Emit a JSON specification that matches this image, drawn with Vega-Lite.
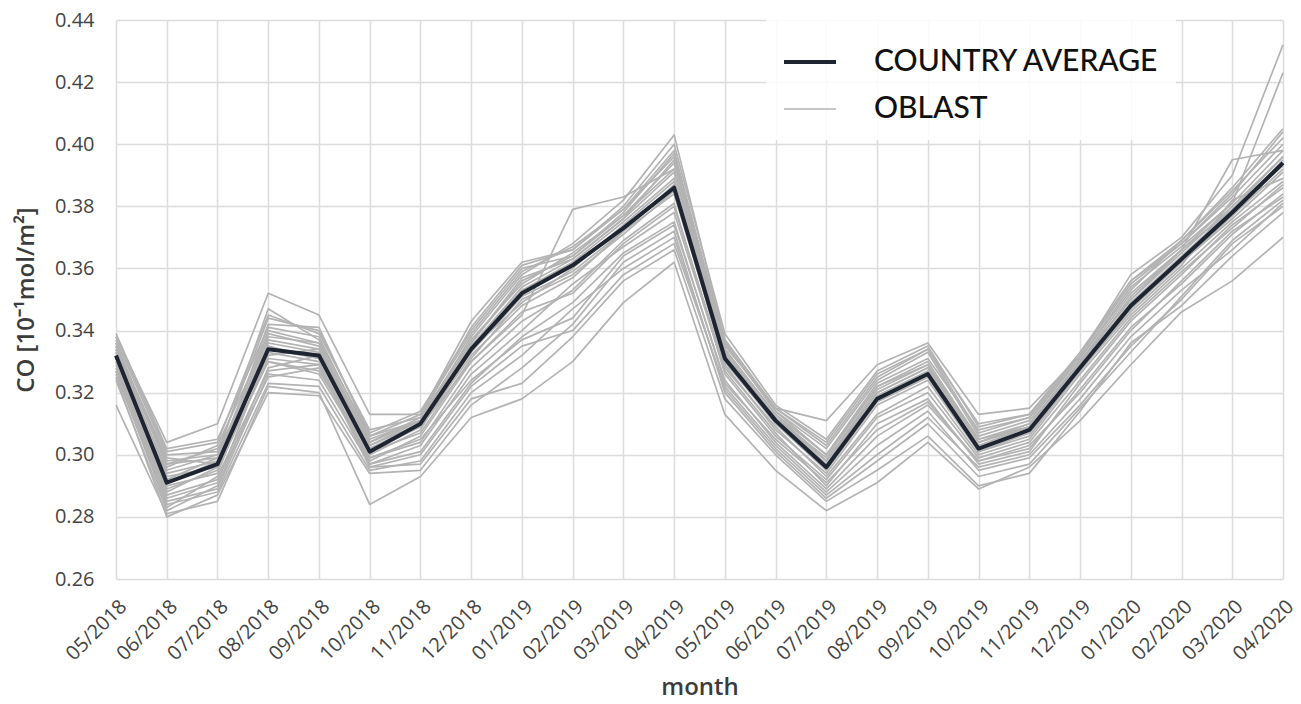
{
  "$schema": "https://vega.github.io/schema/vega-lite/v6.json",
  "autosize": "none",
  "width": 1167,
  "height": 559,
  "padding": {"left": 116, "top": 20, "right": 18, "bottom": 125},
  "background": "white",
  "config": {
    "view": {"stroke": null},
    "axis": {
      "domain": false,
      "ticks": false,
      "gridColor": "#dcdcdc",
      "gridWidth": 1.5,
      "labelFont": "Open Sans",
      "labelColor": "#444444",
      "labelFontSize": 20,
      "titleFont": "Open Sans",
      "titleColor": "#3c3c3c",
      "titleFontWeight": 600
    }
  },
  "data": {
    "values": [
      {"month":"05/2018","AVG":0.332,"O1":0.338,"O2":0.335,"O3":0.316,"O4":0.327,"O5":0.334,"O6":0.339,"O7":0.330,"O8":0.328,"O9":0.336,"O10":0.333,"O11":0.331,"O12":0.329,"O13":0.337,"O14":0.326,"O15":0.332,"O16":0.334,"O17":0.324,"O18":0.335,"O19":0.330,"O20":0.333,"O21":0.338,"O22":0.327,"O23":0.331,"O24":0.336,"O25":0.325},
      {"month":"06/2018","AVG":0.291,"O1":0.304,"O2":0.298,"O3":0.281,"O4":0.283,"O5":0.294,"O6":0.302,"O7":0.288,"O8":0.286,"O9":0.296,"O10":0.290,"O11":0.292,"O12":0.287,"O13":0.300,"O14":0.284,"O15":0.293,"O16":0.297,"O17":0.282,"O18":0.299,"O19":0.289,"O20":0.295,"O21":0.301,"O22":0.285,"O23":0.291,"O24":0.297,"O25":0.280},
      {"month":"07/2018","AVG":0.297,"O1":0.310,"O2":0.300,"O3":0.285,"O4":0.293,"O5":0.298,"O6":0.305,"O7":0.296,"O8":0.291,"O9":0.303,"O10":0.294,"O11":0.299,"O12":0.292,"O13":0.301,"O14":0.288,"O15":0.296,"O16":0.302,"O17":0.290,"O18":0.297,"O19":0.295,"O20":0.300,"O21":0.304,"O22":0.289,"O23":0.298,"O24":0.299,"O25":0.287},
      {"month":"08/2018","AVG":0.334,"O1":0.352,"O2":0.347,"O3":0.322,"O4":0.327,"O5":0.336,"O6":0.341,"O7":0.330,"O8":0.333,"O9":0.338,"O10":0.335,"O11":0.332,"O12":0.325,"O13":0.344,"O14":0.323,"O15":0.339,"O16":0.330,"O17":0.328,"O18":0.342,"O19":0.331,"O20":0.337,"O21":0.345,"O22":0.326,"O23":0.334,"O24":0.340,"O25":0.320},
      {"month":"09/2018","AVG":0.332,"O1":0.345,"O2":0.337,"O3":0.320,"O4":0.329,"O5":0.333,"O6":0.338,"O7":0.326,"O8":0.330,"O9":0.336,"O10":0.331,"O11":0.334,"O12":0.328,"O13":0.340,"O14":0.322,"O15":0.335,"O16":0.327,"O17":0.332,"O18":0.341,"O19":0.329,"O20":0.334,"O21":0.339,"O22":0.324,"O23":0.331,"O24":0.336,"O25":0.319},
      {"month":"10/2018","AVG":0.301,"O1":0.313,"O2":0.306,"O3":0.284,"O4":0.296,"O5":0.302,"O6":0.305,"O7":0.299,"O8":0.297,"O9":0.304,"O10":0.300,"O11":0.302,"O12":0.298,"O13":0.307,"O14":0.295,"O15":0.303,"O16":0.301,"O17":0.296,"O18":0.306,"O19":0.299,"O20":0.303,"O21":0.308,"O22":0.297,"O23":0.301,"O24":0.304,"O25":0.294},
      {"month":"11/2018","AVG":0.310,"O1":0.313,"O2":0.311,"O3":0.293,"O4":0.297,"O5":0.309,"O6":0.311,"O7":0.305,"O8":0.303,"O9":0.312,"O10":0.308,"O11":0.310,"O12":0.306,"O13":0.314,"O14":0.298,"O15":0.310,"O16":0.307,"O17":0.300,"O18":0.313,"O19":0.304,"O20":0.311,"O21":0.312,"O22":0.301,"O23":0.309,"O24":0.311,"O25":0.295},
      {"month":"12/2018","AVG":0.334,"O1":0.343,"O2":0.338,"O3":0.312,"O4":0.318,"O5":0.330,"O6":0.336,"O7":0.324,"O8":0.326,"O9":0.337,"O10":0.335,"O11":0.333,"O12":0.330,"O13":0.340,"O14":0.320,"O15":0.334,"O16":0.331,"O17":0.322,"O18":0.339,"O19":0.328,"O20":0.335,"O21":0.341,"O22":0.323,"O23":0.332,"O24":0.336,"O25":0.316},
      {"month":"01/2019","AVG":0.352,"O1":0.362,"O2":0.358,"O3":0.318,"O4":0.323,"O5":0.345,"O6":0.357,"O7":0.337,"O8":0.340,"O9":0.355,"O10":0.353,"O11":0.351,"O12":0.346,"O13":0.360,"O14":0.332,"O15":0.349,"O16":0.350,"O17":0.335,"O18":0.359,"O19":0.343,"O20":0.354,"O21":0.361,"O22":0.338,"O23":0.348,"O24":0.356,"O25":0.328},
      {"month":"02/2019","AVG":0.361,"O1":0.366,"O2":0.368,"O3":0.330,"O4":0.338,"O5":0.379,"O6":0.363,"O7":0.344,"O8":0.355,"O9":0.365,"O10":0.362,"O11":0.359,"O12":0.352,"O13":0.364,"O14":0.347,"O15":0.360,"O16":0.358,"O17":0.340,"O18":0.367,"O19":0.353,"O20":0.363,"O21":0.366,"O22":0.349,"O23":0.357,"O24":0.364,"O25":0.342},
      {"month":"03/2019","AVG":0.373,"O1":0.380,"O2":0.382,"O3":0.349,"O4":0.356,"O5":0.383,"O6":0.376,"O7":0.364,"O8":0.367,"O9":0.377,"O10":0.375,"O11":0.372,"O12":0.368,"O13":0.378,"O14":0.360,"O15":0.374,"O16":0.371,"O17":0.358,"O18":0.379,"O19":0.369,"O20":0.376,"O21":0.379,"O22":0.365,"O23":0.372,"O24":0.377,"O25":0.362},
      {"month":"04/2019","AVG":0.386,"O1":0.400,"O2":0.403,"O3":0.362,"O4":0.366,"O5":0.392,"O6":0.395,"O7":0.374,"O8":0.378,"O9":0.392,"O10":0.389,"O11":0.384,"O12":0.380,"O13":0.397,"O14":0.370,"O15":0.388,"O16":0.385,"O17":0.368,"O18":0.398,"O19":0.381,"O20":0.391,"O21":0.396,"O22":0.375,"O23":0.387,"O24":0.394,"O25":0.372},
      {"month":"05/2019","AVG":0.331,"O1":0.339,"O2":0.337,"O3":0.313,"O4":0.318,"O5":0.332,"O6":0.336,"O7":0.324,"O8":0.327,"O9":0.334,"O10":0.333,"O11":0.330,"O12":0.328,"O13":0.335,"O14":0.321,"O15":0.332,"O16":0.329,"O17":0.322,"O18":0.336,"O19":0.326,"O20":0.333,"O21":0.337,"O22":0.323,"O23":0.330,"O24":0.334,"O25":0.320},
      {"month":"06/2019","AVG":0.311,"O1":0.316,"O2":0.315,"O3":0.295,"O4":0.300,"O5":0.312,"O6":0.314,"O7":0.304,"O8":0.307,"O9":0.313,"O10":0.312,"O11":0.310,"O12":0.309,"O13":0.315,"O14":0.302,"O15":0.311,"O16":0.308,"O17":0.303,"O18":0.314,"O19":0.306,"O20":0.312,"O21":0.315,"O22":0.305,"O23":0.310,"O24":0.313,"O25":0.301},
      {"month":"07/2019","AVG":0.296,"O1":0.305,"O2":0.311,"O3":0.282,"O4":0.285,"O5":0.299,"O6":0.302,"O7":0.289,"O8":0.290,"O9":0.298,"O10":0.297,"O11":0.295,"O12":0.293,"O13":0.303,"O14":0.287,"O15":0.296,"O16":0.294,"O17":0.288,"O18":0.300,"O19":0.292,"O20":0.298,"O21":0.304,"O22":0.291,"O23":0.296,"O24":0.300,"O25":0.286},
      {"month":"08/2019","AVG":0.318,"O1":0.327,"O2":0.329,"O3":0.291,"O4":0.295,"O5":0.322,"O6":0.324,"O7":0.306,"O8":0.310,"O9":0.321,"O10":0.320,"O11":0.317,"O12":0.313,"O13":0.325,"O14":0.300,"O15":0.319,"O16":0.316,"O17":0.303,"O18":0.323,"O19":0.312,"O20":0.320,"O21":0.326,"O22":0.308,"O23":0.318,"O24":0.322,"O25":0.298},
      {"month":"09/2019","AVG":0.326,"O1":0.335,"O2":0.336,"O3":0.304,"O4":0.306,"O5":0.329,"O6":0.333,"O7":0.316,"O8":0.318,"O9":0.329,"O10":0.328,"O11":0.325,"O12":0.322,"O13":0.334,"O14":0.312,"O15":0.327,"O16":0.324,"O17":0.314,"O18":0.331,"O19":0.320,"O20":0.328,"O21":0.334,"O22":0.317,"O23":0.326,"O24":0.330,"O25":0.310},
      {"month":"10/2019","AVG":0.302,"O1":0.309,"O2":0.313,"O3":0.289,"O4":0.290,"O5":0.305,"O6":0.306,"O7":0.298,"O8":0.297,"O9":0.304,"O10":0.303,"O11":0.301,"O12":0.300,"O13":0.307,"O14":0.296,"O15":0.302,"O16":0.301,"O17":0.295,"O18":0.308,"O19":0.299,"O20":0.304,"O21":0.310,"O22":0.298,"O23":0.302,"O24":0.305,"O25":0.293},
      {"month":"11/2019","AVG":0.308,"O1":0.313,"O2":0.315,"O3":0.296,"O4":0.294,"O5":0.309,"O6":0.311,"O7":0.303,"O8":0.301,"O9":0.310,"O10":0.309,"O11":0.307,"O12":0.305,"O13":0.312,"O14":0.300,"O15":0.308,"O16":0.306,"O17":0.299,"O18":0.312,"O19":0.304,"O20":0.309,"O21":0.313,"O22":0.302,"O23":0.307,"O24":0.310,"O25":0.297},
      {"month":"12/2019","AVG":0.328,"O1":0.333,"O2":0.332,"O3":0.311,"O4":0.314,"O5":0.329,"O6":0.331,"O7":0.320,"O8":0.323,"O9":0.330,"O10":0.329,"O11":0.327,"O12":0.326,"O13":0.332,"O14":0.318,"O15":0.328,"O16":0.327,"O17":0.316,"O18":0.331,"O19":0.324,"O20":0.330,"O21":0.332,"O22":0.321,"O23":0.328,"O24":0.330,"O25":0.315},
      {"month":"01/2020","AVG":0.348,"O1":0.356,"O2":0.358,"O3":0.329,"O4":0.336,"O5":0.351,"O6":0.354,"O7":0.340,"O8":0.343,"O9":0.350,"O10":0.349,"O11":0.347,"O12":0.345,"O13":0.355,"O14":0.338,"O15":0.348,"O16":0.346,"O17":0.335,"O18":0.353,"O19":0.344,"O20":0.350,"O21":0.356,"O22":0.341,"O23":0.347,"O24":0.352,"O25":0.333},
      {"month":"02/2020","AVG":0.363,"O1":0.368,"O2":0.370,"O3":0.346,"O4":0.348,"O5":0.366,"O6":0.367,"O7":0.356,"O8":0.358,"O9":0.365,"O10":0.364,"O11":0.362,"O12":0.360,"O13":0.368,"O14":0.353,"O15":0.363,"O16":0.361,"O17":0.350,"O18":0.369,"O19":0.359,"O20":0.366,"O21":0.369,"O22":0.355,"O23":0.362,"O24":0.366,"O25":0.351},
      {"month":"03/2020","AVG":0.378,"O1":0.384,"O2":0.390,"O3":0.356,"O4":0.364,"O5":0.395,"O6":0.381,"O7":0.372,"O8":0.374,"O9":0.380,"O10":0.379,"O11":0.376,"O12":0.375,"O13":0.383,"O14":0.366,"O15":0.377,"O16":0.382,"O17":0.368,"O18":0.385,"O19":0.373,"O20":0.379,"O21":0.386,"O22":0.371,"O23":0.377,"O24":0.381,"O25":0.369},
      {"month":"04/2020","AVG":0.394,"O1":0.404,"O2":0.432,"O3":0.370,"O4":0.378,"O5":0.398,"O6":0.423,"O7":0.383,"O8":0.386,"O9":0.396,"O10":0.393,"O11":0.391,"O12":0.388,"O13":0.400,"O14":0.381,"O15":0.395,"O16":0.389,"O17":0.380,"O18":0.402,"O19":0.387,"O20":0.396,"O21":0.405,"O22":0.384,"O23":0.392,"O24":0.398,"O25":0.382}
    ]
  },
  "encoding": {
    "x": {
      "field": "month",
      "type": "ordinal",
      "scale": {
        "type": "point",
        "padding": 0,
        "domain": ["05/2018","06/2018","07/2018","08/2018","09/2018","10/2018","11/2018","12/2018","01/2019","02/2019","03/2019","04/2019","05/2019","06/2019","07/2019","08/2019","09/2019","10/2019","11/2019","12/2019","01/2020","02/2020","03/2020","04/2020"]
      },
      "axis": {
        "title": "month",
        "grid": true,
        "labelAngle": -45,
        "labelPadding": 17,
        "titleFontSize": 24,
        "titlePadding": 12
      }
    }
  },
  "layer": [
    {
      "transform": [
        {"fold": ["O1","O2","O3","O4","O5","O6","O7","O8","O9","O10","O11","O12","O13","O14","O15","O16","O17","O18","O19","O20","O21","O22","O23","O24","O25"], "as": ["oblast","co"]}
      ],
      "mark": {"type": "line", "strokeJoin": "round"},
      "encoding": {
        "y": {
          "field": "co",
          "type": "quantitative",
          "scale": {"domain": [0.26, 0.44], "nice": false, "zero": false},
          "axis": {
            "title": "CO [10⁻¹mol/m²]",
            "values": [0.26,0.28,0.30,0.32,0.34,0.36,0.38,0.40,0.42,0.44],
            "format": ".2f",
            "labelPadding": 22,
            "titleFontSize": 24,
            "titlePadding": 16
          }
        },
        "detail": {"field": "oblast"},
        "color": {
          "datum": "OBLAST",
          "scale": {"domain": ["COUNTRY AVERAGE","OBLAST"], "range": ["#1e2530","#b3b3b3"]},
          "legend": {
            "title": null,
            "orient": "none",
            "legendX": 650,
            "legendY": -2,
            "padding": 16,
            "fillColor": "rgba(255,255,255,0.85)",
            "symbolType": "stroke",
            "symbolSize": 2704,
            "symbolStrokeWidth": 3,
            "labelFont": "Lato",
            "labelFontSize": 30,
            "labelFontWeight": 500,
            "labelColor": "#111111",
            "labelOffset": 36,
            "labelLimit": 0,
            "rowPadding": 5
          }
        },
        "strokeWidth": {
          "datum": "OBLAST",
          "scale": {"domain": ["COUNTRY AVERAGE","OBLAST"], "range": [4, 1.7]},
          "legend": null
        }
      }
    },
    {
      "mark": {"type": "line", "strokeJoin": "round"},
      "encoding": {
        "y": {"field": "AVG", "type": "quantitative"},
        "color": {"datum": "COUNTRY AVERAGE"},
        "strokeWidth": {"datum": "COUNTRY AVERAGE"}
      }
    }
  ]
}
